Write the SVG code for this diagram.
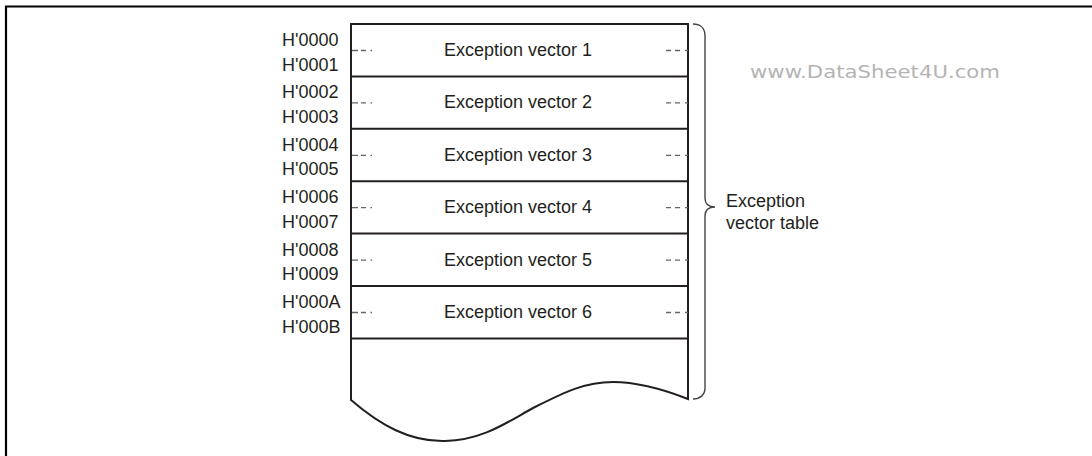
<svg xmlns="http://www.w3.org/2000/svg" width="1092" height="456" viewBox="0 0 1092 456">
<style>
.t{font-family:"Liberation Sans",Arial,sans-serif;font-size:18px;fill:#231f20}
.c{text-anchor:middle}
.ln{fill:none;stroke:#231f20;stroke-width:2}
.d{stroke:#666;stroke-width:1.3;fill:none}
.br{fill:none;stroke:#444;stroke-width:1.4}
</style>
<rect x="0" y="0" width="1092" height="456" fill="#fff"/>
<path d="M6,456 V6.5 H1092" fill="none" stroke="#000" stroke-width="2.2"/>

<g id="table">
<path class="ln" d="M351,24 H688 M351,76.4 H688 M351,128.8 H688 M351,181.2 H688 M351,233.6 H688 M351,286 H688 M351,338.4 H688"/>
<path class="ln" d="M351,23 V400 C380,425 410,442 445,441 C485,440 510,420 535,407 C565,392 585,382 613,382 C640,382 665,390 688,399 V23"/>
</g>

<g id="row1">
<text class="t" x="282" y="46">H'0000</text><text class="t" x="282" y="70.5">H'0001</text>
<path class="d" d="M352,50.5 h6 m3,0 h5 m4.5,0 h1.5 M666,50.5 h5 m4,0 h5 m5,0 h3"/>
<text class="t c" x="518" y="56">Exception vector 1</text>
</g>
<g id="row2">
<text class="t" x="282" y="98.4">H'0002</text><text class="t" x="282" y="122.9">H'0003</text>
<path class="d" d="M352,102.9 h6 m3,0 h5 m4.5,0 h1.5 M666,102.9 h5 m4,0 h5 m5,0 h3"/>
<text class="t c" x="518" y="108.4">Exception vector 2</text>
</g>
<g id="row3">
<text class="t" x="282" y="150.8">H'0004</text><text class="t" x="282" y="175.3">H'0005</text>
<path class="d" d="M352,155.3 h6 m3,0 h5 m4.5,0 h1.5 M666,155.3 h5 m4,0 h5 m5,0 h3"/>
<text class="t c" x="518" y="160.8">Exception vector 3</text>
</g>
<g id="row4">
<text class="t" x="282" y="203.2">H'0006</text><text class="t" x="282" y="227.7">H'0007</text>
<path class="d" d="M352,207.7 h6 m3,0 h5 m4.5,0 h1.5 M666,207.7 h5 m4,0 h5 m5,0 h3"/>
<text class="t c" x="518" y="213.2">Exception vector 4</text>
</g>
<g id="row5">
<text class="t" x="282" y="255.6">H'0008</text><text class="t" x="282" y="280.1">H'0009</text>
<path class="d" d="M352,260.1 h6 m3,0 h5 m4.5,0 h1.5 M666,260.1 h5 m4,0 h5 m5,0 h3"/>
<text class="t c" x="518" y="265.6">Exception vector 5</text>
</g>
<g id="row6">
<text class="t" x="282" y="308">H'000A</text><text class="t" x="282" y="332.5">H'000B</text>
<path class="d" d="M352,312.5 h6 m3,0 h5 m4.5,0 h1.5 M666,312.5 h5 m4,0 h5 m5,0 h3"/>
<text class="t c" x="518" y="318">Exception vector 6</text>
</g>

<g id="brace">
<path class="br" d="M693,24 C700,24 705,28 705,36 V198 C705,204 709,207 715,207 C709,207 705,210 705,216 V388 C705,395 700,399 693,399"/>
<text class="t" x="726" y="207">Exception</text>
<text class="t" x="726" y="229">vector table</text>
</g>

<text x="750" y="78" font-family="'DejaVu Sans',sans-serif" font-size="17" fill="#b4b4b4" textLength="250" lengthAdjust="spacingAndGlyphs">www.DataSheet4U.com</text>
</svg>
